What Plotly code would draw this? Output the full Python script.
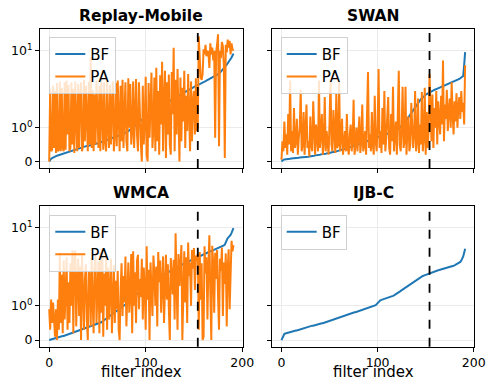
import math
import plotly.graph_objects as go

# ---------------- data ----------------
filter_index = list(range(192))
threshold_index = 154

replay_bf = [
    0.00, 0.05, 0.08, 0.10, 0.12, 0.13, 0.15, 0.16, 0.17, 0.18, 0.19, 0.20, 0.21, 0.22, 0.22, 0.23,
    0.24, 0.25, 0.27, 0.28, 0.29, 0.30, 0.30, 0.31, 0.32, 0.33, 0.34, 0.35, 0.36, 0.36, 0.37, 0.38,
    0.39, 0.40, 0.41, 0.42, 0.43, 0.44, 0.45, 0.46, 0.46, 0.47, 0.47, 0.48, 0.49, 0.50, 0.51, 0.51,
    0.52, 0.53, 0.53, 0.54, 0.55, 0.56, 0.57, 0.58, 0.59, 0.60, 0.61, 0.62, 0.63, 0.64, 0.65, 0.66,
    0.67, 0.68, 0.69, 0.70, 0.71, 0.72, 0.73, 0.74, 0.76, 0.77, 0.78, 0.80, 0.81, 0.82, 0.84, 0.85,
    0.87, 0.88, 0.90, 0.92, 0.94, 0.96, 0.98, 1.00, 1.03, 1.06, 1.09, 1.12, 1.15, 1.18, 1.22, 1.25,
    1.28, 1.31, 1.34, 1.37, 1.40, 1.43, 1.46, 1.49, 1.52, 1.55, 1.58, 1.61, 1.64, 1.67, 1.70, 1.73,
    1.76, 1.79, 1.82, 1.85, 1.88, 1.92, 1.96, 2.00, 2.04, 2.08, 2.12, 2.16, 2.20, 2.24, 2.28, 2.32,
    2.36, 2.40, 2.44, 2.48, 2.52, 2.57, 2.62, 2.67, 2.72, 2.77, 2.82, 2.87, 2.92, 2.97, 3.02, 3.07,
    3.12, 3.17, 3.22, 3.27, 3.32, 3.37, 3.42, 3.47, 3.52, 3.56, 3.60, 3.64, 3.68, 3.72, 3.78, 3.84,
    3.90, 3.96, 4.02, 4.08, 4.14, 4.20, 4.26, 4.32, 4.38, 4.44, 4.50, 4.58, 4.66, 4.75, 4.85, 4.95,
    5.05, 5.20, 5.35, 5.50, 5.70, 5.90, 6.10, 6.35, 6.60, 6.85, 7.10, 7.40, 7.80, 8.20, 8.70, 9.20,
]
replay_pa = [
    0.0, 3.2, 0.3, 0.35, 3.5, 0.4, 3.0, 0.25, 3.8, 0.3, 0.35, 4.0, 0.3, 3.3, 0.4, 0.3,
    3.9, 0.35, 4.1, 0.8, 3.6, 0.3, 0.4, 3.9, 0.5, 3.2, 0.25, 4.0, 1.2, 0.3, 3.7, 0.4,
    2.5, 3.9, 0.3, 0.45, 4.2, 0.6, 3.5, 1.0, 0.3, 4.0, 0.5, 8.3, 0.4, 3.1, 0.3, 2.7,
    0.5, 4.1, 0.9, 0.4, 3.5, 0.3, 4.3, 1.5, 0.35, 3.9, 0.6, 0.3, 4.2, 1.0, 0.4, 3.6,
    0.5, 2.0, 4.0, 0.3, 0.8, 3.8, 0.45, 4.1, 1.2, 0.3, 3.5, 0.6, 4.2, 0.4, 1.5, 3.9,
    0.6, 0.3, 4.4, 1.0, 3.7, 0.5, 0.9, 4.0, 0.4, 2.5, 4.3, 0.8, 0.3, 3.9, 1.3, 0.5,
    0.0, 3.5, 0.5, 1.2, 4.6, 0.2, 0.0, 3.8, 0.7, 2.8, 5.2, 0.4, 1.0, 4.5, 0.3, 6.0,
    0.6, 3.0, 0.2, 4.8, 1.1, 7.2, 0.3, 2.4, 5.5, 0.1, 3.9, 0.8, 4.9, 0.5, 0.2, 5.3,
    1.5, 11.0, 0.3, 4.2, 0.8, 5.8, 2.0, 0.0, 4.5, 0.6, 3.3, 1.2, 5.5, 0.4, 2.6, 0.9,
    5.0, 1.8, 0.3, 4.0, 0.6, 2.2, 3.0, 0.8, 4.4, 0.9, 1.0, 15.4, 9.0, 4.5, 4.2, 5.0,
    10.5, 9.0, 12.0, 8.5, 10.0, 9.5, 6.0, 12.5, 9.0, 11.0, 7.5, 10.0, 0.7, 9.5, 12.0, 16.4,
    0.45, 10.0, 8.0, 13.0, 11.5, 6.5, 0.1, 12.0, 9.5, 14.0, 11.0, 13.5, 9.0, 12.5, 10.5, 10.0,
]

swan_bf = [
    0.00, 0.04, 0.05, 0.06, 0.06, 0.07, 0.07, 0.08, 0.08, 0.08, 0.09, 0.09, 0.09, 0.10, 0.10, 0.10,
    0.11, 0.11, 0.11, 0.12, 0.12, 0.12, 0.13, 0.13, 0.13, 0.13, 0.14, 0.14, 0.14, 0.15, 0.15, 0.16,
    0.16, 0.17, 0.17, 0.18, 0.18, 0.19, 0.19, 0.20, 0.20, 0.21, 0.21, 0.22, 0.22, 0.23, 0.23, 0.24,
    0.24, 0.25, 0.25, 0.26, 0.27, 0.27, 0.28, 0.29, 0.29, 0.30, 0.31, 0.31, 0.32, 0.33, 0.34, 0.34,
    0.35, 0.36, 0.37, 0.38, 0.38, 0.39, 0.40, 0.41, 0.42, 0.43, 0.44, 0.45, 0.46, 0.47, 0.48, 0.49,
    0.50, 0.51, 0.52, 0.53, 0.54, 0.55, 0.56, 0.57, 0.58, 0.59, 0.60, 0.61, 0.62, 0.63, 0.64, 0.65,
    0.66, 0.67, 0.68, 0.69, 0.70, 0.71, 0.72, 0.73, 0.74, 0.75, 0.76, 0.77, 0.78, 0.79, 0.80, 0.81,
    0.82, 0.83, 0.84, 0.85, 0.86, 0.88, 0.90, 0.92, 0.94, 0.96, 0.98, 1.00, 1.03, 1.06, 1.09, 1.12,
    1.16, 1.20, 1.25, 1.30, 1.36, 1.42, 1.48, 1.55, 1.62, 1.70, 1.78, 1.86, 1.94, 2.02, 2.10, 2.18,
    2.26, 2.34, 2.42, 2.50, 2.57, 2.63, 2.68, 2.73, 2.78, 2.83, 2.88, 2.93, 2.98, 3.02, 3.06, 3.10,
    3.14, 3.18, 3.22, 3.26, 3.30, 3.34, 3.38, 3.42, 3.46, 3.50, 3.54, 3.58, 3.62, 3.66, 3.70, 3.74,
    3.78, 3.82, 3.86, 3.90, 3.95, 4.00, 4.05, 4.10, 4.20, 4.30, 4.40, 4.50, 4.60, 4.70, 6.50, 9.60,
]
swan_pa = [
    0.05, 0.6, 0.3, 1.2, 0.4, 0.8, 0.2, 1.5, 0.5, 4.1, 0.3, 0.9, 0.25, 1.8, 0.4, 0.6,
    1.3, 0.2, 0.7, 1.0, 3.1, 0.3, 0.5, 1.6, 0.2, 0.9, 2.0, 0.4, 0.6, 0.15, 1.4, 0.5,
    0.3, 2.2, 0.7, 0.2, 1.1, 0.5, 0.3, 4.1, 0.4, 0.8, 1.5, 0.2, 0.6, 2.5, 0.3, 0.9,
    0.4, 0.2, 1.2, 4.2, 0.5, 0.3, 1.7, 0.6, 0.25, 2.8, 0.4, 0.5, 4.0, 0.3, 0.7, 1.3,
    0.2, 0.5, 0.9, 0.3, 1.5, 0.4, 0.2, 0.8, 1.1, 0.3, 0.6, 2.3, 0.2, 0.5, 1.0, 0.3,
    0.7, 1.4, 0.25, 0.6, 2.0, 0.3, 0.5, 0.9, 0.2, 1.2, 5.3, 0.4, 0.8, 0.3, 1.6, 0.5,
    0.2, 2.6, 0.6, 0.3, 1.1, 5.8, 0.4, 0.9, 0.25, 1.8, 0.5, 3.0, 0.3, 0.7, 1.3, 2.5,
    0.4, 0.2, 1.5, 0.6, 3.4, 0.3, 0.8, 1.2, 0.2, 2.2, 5.5, 0.5, 0.3, 1.0, 3.4, 0.4,
    0.6, 3.4, 0.2, 0.9, 1.4, 0.3, 0.5, 2.1, 1.2, 0.4, 0.8, 3.0, 0.3, 0.6, 2.4, 0.25,
    1.1, 0.5, 2.9, 0.3, 0.7, 3.3, 0.2, 1.6, 0.4, 0.9, 5.0, 1.3, 0.6, 2.7, 0.4, 1.8,
    1.0, 3.0, 0.5, 2.2, 1.4, 0.8, 2.6, 1.1, 7.5, 0.6, 2.0, 1.3, 3.1, 0.9, 1.7, 2.4,
    1.0, 3.9, 1.5, 0.8, 2.2, 1.2, 2.8, 1.0, 1.9, 2.5, 1.3, 3.0, 1.6, 2.1, 1.1, 6.5,
]

wmca_bf = [
    0.00, 0.01, 0.02, 0.03, 0.04, 0.05, 0.06, 0.07, 0.08, 0.09, 0.10, 0.10, 0.11, 0.11, 0.12, 0.12,
    0.13, 0.13, 0.14, 0.15, 0.16, 0.17, 0.18, 0.19, 0.20, 0.21, 0.22, 0.23, 0.24, 0.25, 0.26, 0.27,
    0.28, 0.29, 0.30, 0.31, 0.32, 0.33, 0.34, 0.35, 0.36, 0.37, 0.38, 0.39, 0.40, 0.41, 0.42, 0.43,
    0.44, 0.45, 0.46, 0.47, 0.48, 0.50, 0.52, 0.54, 0.56, 0.58, 0.60, 0.62, 0.64, 0.66, 0.68, 0.70,
    0.72, 0.74, 0.76, 0.78, 0.80, 0.82, 0.84, 0.86, 0.88, 0.90, 0.92, 0.94, 0.96, 0.98, 1.00, 1.03,
    1.06, 1.09, 1.12, 1.15, 1.18, 1.21, 1.24, 1.27, 1.30, 1.33, 1.36, 1.40, 1.44, 1.48, 1.52, 1.56,
    1.60, 1.64, 1.68, 1.72, 1.76, 1.80, 1.84, 1.88, 1.92, 1.96, 2.00, 2.04, 2.08, 2.12, 2.16, 2.20,
    2.24, 2.28, 2.32, 2.36, 2.40, 2.44, 2.48, 2.52, 2.56, 2.60, 2.64, 2.68, 2.72, 2.76, 2.80, 2.85,
    2.90, 2.95, 3.00, 3.05, 3.10, 3.15, 3.20, 3.25, 3.30, 3.35, 3.40, 3.45, 3.50, 3.55, 3.60, 3.65,
    3.70, 3.75, 3.80, 3.85, 3.90, 3.95, 4.00, 4.05, 4.10, 4.15, 4.20, 4.26, 4.32, 4.38, 4.44, 4.50,
    4.56, 4.62, 4.68, 4.74, 4.80, 4.86, 4.92, 4.98, 5.04, 5.10, 5.16, 5.22, 5.28, 5.34, 5.40, 5.46,
    5.52, 5.58, 5.64, 5.70, 5.80, 5.95, 6.10, 6.60, 7.00, 7.40, 7.60, 7.80, 8.10, 8.60, 9.20, 9.90,
]
wmca_pa = [
    0.9, 0.3, 1.2, 0.5, 1.1, 0.6, 0.1, 0.9, 0.0, 1.2, 0.3, 4.8, 0.5, 2.5, 0.2, 3.8,
    0.6, 1.4, 4.2, 0.3, 2.0, 0.5, 3.5, 1.0, 5.2, 0.2, 4.6, 5.1, 0.4, 1.8, 4.0, 0.7,
    3.2, 0.0, 4.4, 1.5, 0.3, 2.2, 3.4, 0.6, 0.0, 2.8, 2.5, 0.4, 4.1, 1.1, 0.2, 3.0,
    4.5, 0.5, 1.6, 3.7, 0.2, 4.9, 0.8, 5.4, 0.1, 2.6, 1.0, 4.2, 0.3, 3.1, 0.6, 1.8,
    4.0, 0.2, 1.2, 3.3, 0.5, 2.1, 0.9, 2.8, 0.3, 0.0, 1.6, 3.5, 0.7, 2.4, 1.1, 4.3,
    0.4, 2.0, 3.6, 0.8, 1.4, 4.6, 0.2, 5.0, 1.0, 2.7, 0.5, 3.8, 4.5, 0.9, 2.2, 1.3,
    4.0, 0.6, 3.1, 1.7, 0.3, 5.8, 1.2, 2.9, 0.0, 3.6, 1.5, 0.7, 4.4, 2.6, 1.0, 3.2,
    0.4, 4.9, 2.0, 3.8, 0.8, 1.9, 4.3, 0.5, 2.7, 4.5, 1.2, 3.4, 0.9, 0.0, 4.1, 2.2,
    1.4, 3.9, 0.6, 8.5, 2.5, 0.3, 4.6, 1.8, 3.2, 6.0, 0.0, 2.9, 5.0, 1.1, 4.2, 0.5,
    6.5, 2.4, 3.6, 1.0, 5.2, 3.0, 5.5, 1.6, 4.4, 3.8, 4.6, 0.3, 4.9, 1.2, 3.5, 0.0,
    0.1, 5.8, 2.6, 4.2, 0.6, 3.2, 8.0, 1.5, 0.0, 5.9, 3.4, 0.8, 4.8, 2.2, 5.2, 1.3,
    0.3, 4.0, 2.8, 5.6, 0.7, 3.6, 1.9, 4.7, 0.4, 3.0, 5.3, 0.9, 2.5, 6.8, 5.0, 6.0,
]

ijbc_bf = [
    0.00, 0.08, 0.14, 0.18, 0.19, 0.20, 0.21, 0.22, 0.23, 0.24, 0.25, 0.26, 0.27, 0.27, 0.28, 0.28,
    0.28, 0.29, 0.29, 0.30, 0.30, 0.31, 0.32, 0.33, 0.34, 0.35, 0.36, 0.37, 0.38, 0.39, 0.40, 0.41,
    0.42, 0.42, 0.43, 0.43, 0.44, 0.45, 0.46, 0.46, 0.47, 0.48, 0.49, 0.49, 0.50, 0.51, 0.52, 0.53,
    0.54, 0.55, 0.56, 0.57, 0.58, 0.59, 0.60, 0.61, 0.62, 0.63, 0.64, 0.66, 0.67, 0.68, 0.69, 0.70,
    0.71, 0.72, 0.72, 0.73, 0.74, 0.75, 0.76, 0.77, 0.77, 0.78, 0.79, 0.80, 0.81, 0.81, 0.82, 0.83,
    0.84, 0.85, 0.86, 0.87, 0.87, 0.88, 0.89, 0.90, 0.91, 0.92, 0.93, 0.94, 0.95, 0.96, 0.97, 0.98,
    0.99, 1.00, 1.02, 1.05, 1.09, 1.13, 1.16, 1.18, 1.19, 1.20, 1.21, 1.22, 1.23, 1.24, 1.25, 1.26,
    1.27, 1.28, 1.30, 1.32, 1.34, 1.36, 1.38, 1.40, 1.43, 1.46, 1.49, 1.52, 1.55, 1.58, 1.61, 1.64,
    1.67, 1.71, 1.75, 1.79, 1.83, 1.87, 1.91, 1.95, 1.99, 2.03, 2.07, 2.11, 2.15, 2.19, 2.23, 2.27,
    2.31, 2.35, 2.38, 2.41, 2.44, 2.47, 2.50, 2.53, 2.56, 2.59, 2.62, 2.65, 2.68, 2.71, 2.74, 2.77,
    2.80, 2.82, 2.84, 2.86, 2.88, 2.90, 2.92, 2.94, 2.96, 2.98, 3.00, 3.03, 3.06, 3.09, 3.12, 3.15,
    3.18, 3.21, 3.24, 3.27, 3.30, 3.35, 3.40, 3.45, 3.50, 3.55, 3.65, 3.80, 4.00, 4.30, 4.80, 5.40,
]

panel_titles = ["Replay-Mobile", "SWAN", "WMCA", "IJB-C"]
panel_series = [
    [("BF", replay_bf), ("PA", replay_pa)],
    [("BF", swan_bf), ("PA", swan_pa)],
    [("BF", wmca_bf), ("PA", wmca_pa)],
    [("BF", ijbc_bf)],
]
y_tick_values = [0, 1, 10]
y_tick_labels = ["0", "10<sup>0</sup>", "10<sup>1</sup>"]
x_tick_values = [0, 100, 200]
x_label = "filter index"

# ---------------- symlog scale (linear below 1, log above) ----------------
LIN = 0.44


def symlog(v):
    if v <= 1:
        return v * LIN
    return LIN + math.log10(v)


# ---------------- layout geometry ----------------
W, H = 487, 389
colors = {"BF": "#1f77b4", "PA": "#ff7f0e"}
x_doms = [(40 / W, 242.7 / W), (272.3 / W, 474.3 / W)]
y_doms = [(1 - 168 / H, 1 - 29.3 / H), (1 - 346.7 / H, 1 - 206 / H)]
legend_pos = [(49.3 / W, 1 - 36.7 / H), (280.7 / W, 1 - 36.7 / H),
              (49.3 / W, 1 - 214.5 / H), (280.7 / W, 1 - 214.5 / H)]

FONT = "DejaVu Sans"
fig = go.Figure()
layout = dict(
    width=W, height=H, margin=dict(l=0, r=0, t=0, b=0, autoexpand=False),
    paper_bgcolor="white", plot_bgcolor="white",
    font=dict(family=FONT, color="black"),
    showlegend=True, annotations=[], shapes=[],
)

for i, (title, series) in enumerate(zip(panel_titles, panel_series)):
    row, col = divmod(i, 2)
    n = i + 1
    xa = "x" if n == 1 else f"x{n}"
    ya = "y" if n == 1 else f"y{n}"
    leg = "legend" if n == 1 else f"legend{n}"
    for name, vals in series:
        fig.add_trace(go.Scatter(
            x=filter_index, y=[symlog(v) for v in vals], mode="lines", name=name,
            line=dict(color=colors[name], width=2), xaxis=xa, yaxis=ya, legend=leg,
        ))
    layout[f"xaxis{'' if n == 1 else n}"] = dict(
        domain=list(x_doms[col]), anchor=ya, range=[-9.55, 200.55], automargin=False,
        tickvals=x_tick_values, showticklabels=(row == 1),
        tickfont=dict(size=12.5, family=FONT, color="black"),
        ticks="outside", ticklen=4, tickcolor="black", tickwidth=1,
        showline=True, linecolor="black", linewidth=1, mirror=True,
        showgrid=True, gridcolor="#ebebeb", gridwidth=1, zeroline=False,
    )
    layout[f"yaxis{'' if n == 1 else n}"] = dict(
        domain=list(y_doms[row]), anchor=xa, range=[-0.085, 1.72], automargin=False,
        tickvals=[symlog(v) for v in y_tick_values], ticktext=y_tick_labels,
        showticklabels=(col == 0),
        tickfont=dict(size=12.5, family=FONT, color="black"),
        ticks="outside", ticklen=4, tickcolor="black", tickwidth=1,
        showline=True, linecolor="black", linewidth=1, mirror=True,
        showgrid=True, gridcolor="#ebebeb", gridwidth=1, zeroline=False,
    )
    lx, ly = legend_pos[i]
    layout[leg] = dict(
        x=lx, y=ly, xanchor="left", yanchor="top", xref="paper", yref="paper",
        bgcolor="rgba(255,255,255,0.8)", bordercolor="#d0d0d0", borderwidth=1,
        font=dict(size=15, family=FONT, color="black"), itemwidth=30,
        tracegroupgap=0,
    )
    cx = (x_doms[col][0] + x_doms[col][1]) / 2
    # panel title
    layout["annotations"].append(dict(
        text=f"<b>{title}</b>", x=cx, y=y_doms[row][1], xref="paper", yref="paper",
        xanchor="center", yanchor="bottom", yshift=2, showarrow=False,
        font=dict(size=15.5, family=FONT, color="black"),
    ))
    # x-axis label on bottom row
    if row == 1:
        layout["annotations"].append(dict(
            text=x_label, x=cx, y=1 - 372 / H, xref="paper", yref="paper",
            xanchor="center", yanchor="middle", showarrow=False,
            font=dict(size=15, family=FONT, color="black"),
        ))
    # threshold marker
    layout["shapes"].append(dict(
        type="line", xref=xa, yref=f"{ya} domain", x0=threshold_index, x1=threshold_index,
        y0=0, y1=1, line=dict(color="black", width=1.8, dash="dash"),
    ))

fig.update_layout(**layout)
fig.write_html(
    "out.html",
    config={"displayModeBar": False},
    post_script="document.body.style.margin='0';document.body.style.overflow='hidden';",
)
